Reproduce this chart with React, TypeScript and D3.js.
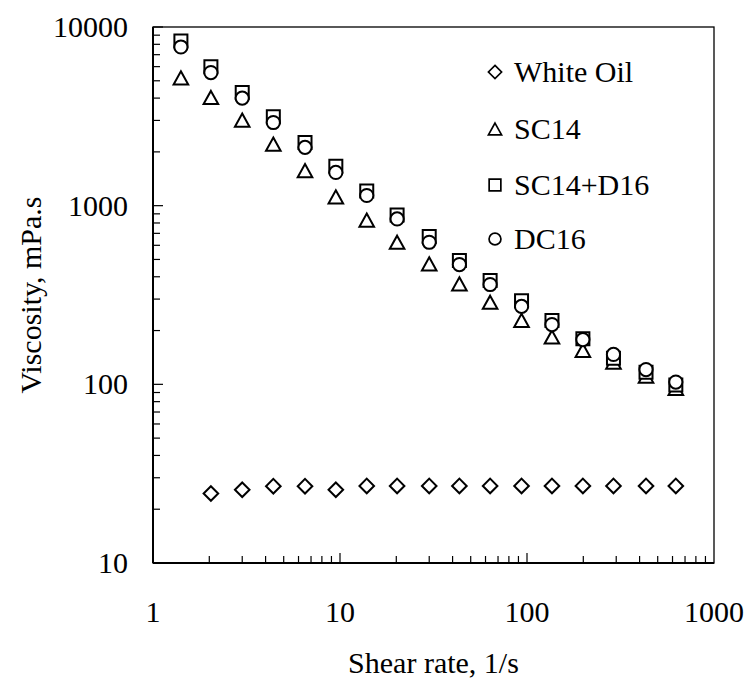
import React, { useEffect, useRef } from 'react';
import * as d3 from 'd3';

const shearRate = [1.41, 2.04, 3.0, 4.4, 6.5, 9.5, 13.9, 20.2, 30, 43.5, 63.5, 93.5, 136, 199, 290, 433, 625];
const whiteOil = [null, 24.5, 25.7, 26.9, 26.9, 25.7, 27, 27, 27, 27, 27, 27, 27, 27, 27, 27, 27];
const sc14 = [5190, 4030, 3010, 2210, 1570, 1120, 830, 624, 472, 365, 288, 228, 184, 155, 133, 111, 95];
const sc14d16 = [8350, 6000, 4300, 3150, 2260, 1660, 1210, 887, 672, 493, 381, 294, 228, 180, 140, 117, 99];
const dc16 = [7730, 5560, 4000, 2920, 2120, 1535, 1140, 843, 624, 468, 362, 273, 216, 178, 147, 121, 103];

const seriesNames = ['White Oil', 'SC14', 'SC14+D16', 'DC16'];
const seriesShapes = ['diamond', 'triangle', 'square', 'circle'];
const xTickLabels = ['1', '10', '100', '1000'];
const yTickLabels = ['10', '100', '1000', '10000'];

// marker paths centred on 0,0
const shapePath = (shape, s = 1) => {
  if (shape === 'diamond') {
    const r = 7.3 * s;
    return `M0,${-r}L${r},0L0,${r}L${-r},0Z`;
  }
  if (shape === 'triangle') {
    const w = 7.3 * s, h = 6.6 * s;
    return `M0,${-h}L${w},${h}L${-w},${h}Z`;
  }
  if (shape === 'square') {
    const h = 6.5 * s;
    return `M${-h},${-h}H${h}V${h}H${-h}Z`;
  }
  const r = 6.6 * s;
  return `M${r},0A${r},${r} 0 1,1 ${-r},0A${r},${r} 0 1,1 ${r},0Z`;
};

const App = () => {
  const svgRef = useRef();

  useEffect(() => {
    const width = 750;
    const height = 684;
    const margin = { top: 27, right: 36, bottom: 121, left: 153 };
    const font = '"Liberation Serif", "Times New Roman", serif';

    const svg = d3.select(svgRef.current);
    svg.selectAll('*').remove();
    svg.attr('width', width).attr('height', height);

    const x = d3.scaleLog().domain([1, 1000]).range([margin.left, width - margin.right]);
    const y = d3.scaleLog().domain([10, 10000]).range([height - margin.bottom, margin.top]);

    const [x0, x1] = x.range();
    const [y0, y1] = y.range();

    // frame
    svg.append('rect')
      .attr('x', x0).attr('y', y1)
      .attr('width', x1 - x0).attr('height', y0 - y1)
      .attr('fill', 'none').attr('stroke', '#000').attr('stroke-width', 1.3);

    // minor + major ticks
    const minor = [];
    for (let d = 1; d < 1000; d *= 10) {
      for (let k = 2; k <= 9; k++) minor.push(d * k);
    }
    svg.append('g').selectAll('line.xm')
      .data(minor).join('line')
      .attr('x1', d => x(d)).attr('x2', d => x(d))
      .attr('y1', y0).attr('y2', y0 - 7)
      .attr('stroke', '#000').attr('stroke-width', 1.2);
    svg.append('g').selectAll('line.xM')
      .data([10, 100]).join('line')
      .attr('x1', d => x(d)).attr('x2', d => x(d))
      .attr('y1', y0).attr('y2', y0 - 10)
      .attr('stroke', '#000').attr('stroke-width', 1.2);

    const yMinor = minor.map(d => d * 10);
    svg.append('g').selectAll('line.ym')
      .data(yMinor).join('line')
      .attr('x1', x0).attr('x2', x0 + 7)
      .attr('y1', d => y(d)).attr('y2', d => y(d))
      .attr('stroke', '#000').attr('stroke-width', 1.2);
    svg.append('g').selectAll('line.yM')
      .data([100, 1000, 10000]).join('line')
      .attr('x1', x0).attr('x2', x0 + 10)
      .attr('y1', d => y(d)).attr('y2', d => y(d))
      .attr('stroke', '#000').attr('stroke-width', 1.2);

    // axis lines a bit heavier
    svg.append('line').attr('x1', x0).attr('x2', x1).attr('y1', y0).attr('y2', y0)
      .attr('stroke', '#000').attr('stroke-width', 2);
    svg.append('line').attr('x1', x0).attr('x2', x0).attr('y1', y0).attr('y2', y1)
      .attr('stroke', '#000').attr('stroke-width', 2);

    // tick labels
    svg.append('g').selectAll('text')
      .data(xTickLabels).join('text')
      .attr('x', d => x(+d)).attr('y', y0 + 59)
      .attr('text-anchor', 'middle')
      .style('font-family', font).style('font-size', '30px')
      .text(d => d);
    svg.append('g').selectAll('text')
      .data(yTickLabels).join('text')
      .attr('x', x0 - 25).attr('y', d => y(+d) + 10)
      .attr('text-anchor', 'end')
      .style('font-family', font).style('font-size', '30px')
      .text(d => d);

    // axis titles
    svg.append('text')
      .attr('x', (x0 + x1) / 2).attr('y', 673)
      .attr('text-anchor', 'middle')
      .style('font-family', font).style('font-size', '30px')
      .text('Shear rate, 1/s');
    svg.append('text')
      .attr('transform', `translate(41,${(y0 + y1) / 2}) rotate(-90)`)
      .attr('text-anchor', 'middle')
      .style('font-family', font).style('font-size', '30px')
      .text('Viscosity, mPa.s');

    // points
    const allSeries = [whiteOil, sc14, sc14d16, dc16];
    allSeries.forEach((vals, i) => {
      const pts = shearRate.map((r, j) => ({ r, v: vals[j] })).filter(p => p.v != null);
      svg.append('g').selectAll('path')
        .data(pts).join('path')
        .attr('transform', p => `translate(${x(p.r)},${y(p.v)})`)
        .attr('d', shapePath(seriesShapes[i]))
        .attr('fill', '#fff').attr('stroke', '#000').attr('stroke-width', 2);
    });

    // legend
    const legendY = [72, 129, 185, 239];
    const lg = svg.append('g');
    seriesNames.forEach((name, i) => {
      lg.append('path')
        .attr('transform', `translate(495,${legendY[i]})`)
        .attr('d', shapePath(seriesShapes[i], 0.9))
        .attr('fill', '#fff').attr('stroke', '#000').attr('stroke-width', 1.7);
      lg.append('text')
        .attr('x', 514).attr('y', legendY[i] + 10)
        .style('font-family', font).style('font-size', '30px')
        .text(name);
    });
  }, []);

  return (
    <svg ref={svgRef} style={{ position: 'absolute', left: 0, top: 0, background: '#fff' }}></svg>
  );
};

export default App;
